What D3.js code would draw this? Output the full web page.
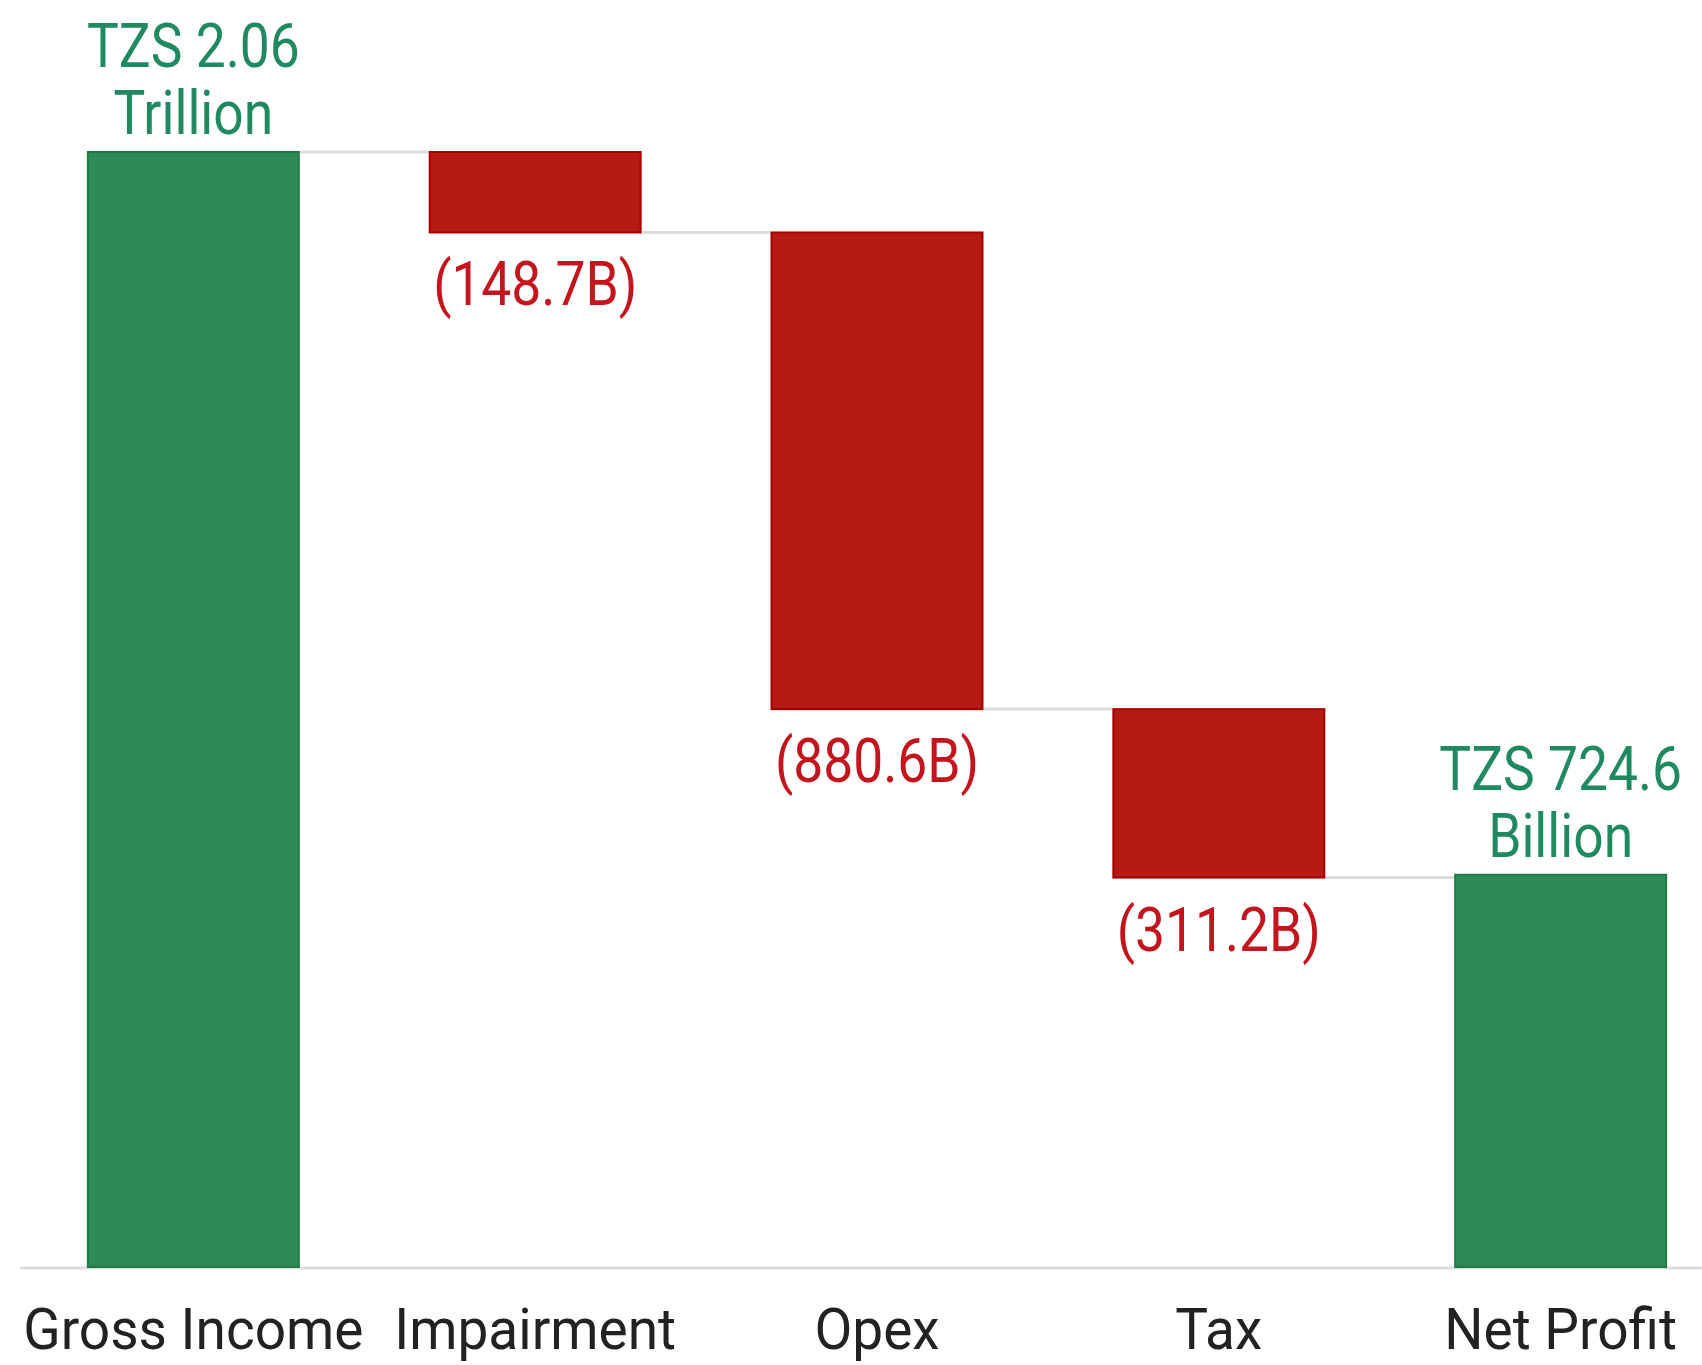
<!DOCTYPE html>
<html>
<head>
<meta charset="utf-8">
<script src="https://cdn.jsdelivr.net/npm/d3@7"></script>
<style>
  body { margin: 0; background: #fff; }
  text { font-family: Roboto, "Noto Sans", sans-serif; }
</style>
</head>
<body>
<script>
// waterfall data (billions TZS)
const categories = ["Gross Income", "Impairment", "Opex", "Tax", "Net Profit"]
const values = [2060, -148.7, -880.6, -311.2, 724.6]
const kinds = ["total", "delta", "delta", "delta", "total"]
const valueLabels = [["TZS 2.06", "Trillion"], ["(148.7B)"], ["(880.6B)"], ["(311.2B)"], ["TZS 724.6", "Billion"]]

const W = 1702, H = 1365
const green = "#2e8b57", greenEdge = "#1d7a48", greenText = "#1f8a5f"
const red = "#b51a15", redEdge = "#a80000", redText = "#c4141c"

const svg = d3.select("body").append("svg")
    .attr("width", W)
    .attr("height", H)

// running totals -> start / end of each bar
let run = 0
const bars = categories.map((c, i) => {
    let start, end
    if (kinds[i] == "total") {
        start = 0
        end = values[i]
        run = values[i]
    } else {
        start = run
        end = run + values[i]
        run = end
    }
    return { cat: c, start: start, end: end, kind: kinds[i], label: valueLabels[i], neg: values[i] < 0 }
})

const x = d3.scaleBand().domain(categories).range([-42, 1796]).padding(0.377)
const y = d3.scaleLinear().domain([0, 2060]).range([1267, 152])

// connectors
svg.selectAll("line.conn")
    .data(bars.slice(0, -1))
    .enter()
    .append("line")
    .attr("class", "conn")
    .attr("x1", d => x(d.cat) + x.bandwidth())
    .attr("x2", (d, i) => x(bars[i + 1].cat))
    .attr("y1", d => y(d.end))
    .attr("y2", d => y(d.end))
    .attr("stroke", "#dcdcdc")
    .attr("stroke-width", 3)

// baseline
svg.append("line")
    .attr("x1", 20).attr("x2", W)
    .attr("y1", y(0) + 1).attr("y2", y(0) + 1)
    .attr("stroke", "#dedede")
    .attr("stroke-width", 3)

svg.selectAll("rect.bar")
    .data(bars)
    .enter()
    .append("rect")
    .attr("class", "bar")
    .attr("x", d => x(d.cat) + 1)
    .attr("width", x.bandwidth() - 2)
    .attr("y", d => y(Math.max(d.start, d.end)))
    .attr("height", d => Math.abs(y(d.start) - y(d.end)))
    .attr("fill", d => d.neg ? red : green)
    .attr("stroke", d => d.neg ? redEdge : greenEdge)
    .attr("stroke-width", 2)

// value labels
const lab = svg.selectAll("g.lab")
    .data(bars)
    .enter()
    .append("g")
    .attr("class", "lab")

lab.each(function (d) {
    const g = d3.select(this)
    const cx = x(d.cat) + x.bandwidth() / 2
    d.label.forEach((t, j) => {
        let yy
        if (d.neg) {
            yy = y(d.end) + 73 + j * 67
        } else {
            yy = y(d.end) - 18 - (d.label.length - 1 - j) * 67
        }
        g.append("text")
            .attr("transform", "translate(" + cx + "," + yy + ") scale(0.92,1.04)")
            .attr("text-anchor", "middle")
            .attr("font-size", 58)
            .attr("fill", d.neg ? redText : greenText)
            .text(t)
    })
})

// category axis
const xAxis = d3.axisBottom(x).tickSize(0).tickPadding(0)
const ax = svg.append("g")
    .attr("transform", "translate(0," + 1349 + ")")
    .call(xAxis)
ax.select(".domain").remove()
ax.selectAll("text")
    .attr("dy", 0)
    .attr("font-size", 55)
    .attr("font-family", "Roboto, sans-serif")
    .attr("fill", "#222")
    .attr("transform", "scale(1.0,1.04)")
</script>
</body>
</html>
